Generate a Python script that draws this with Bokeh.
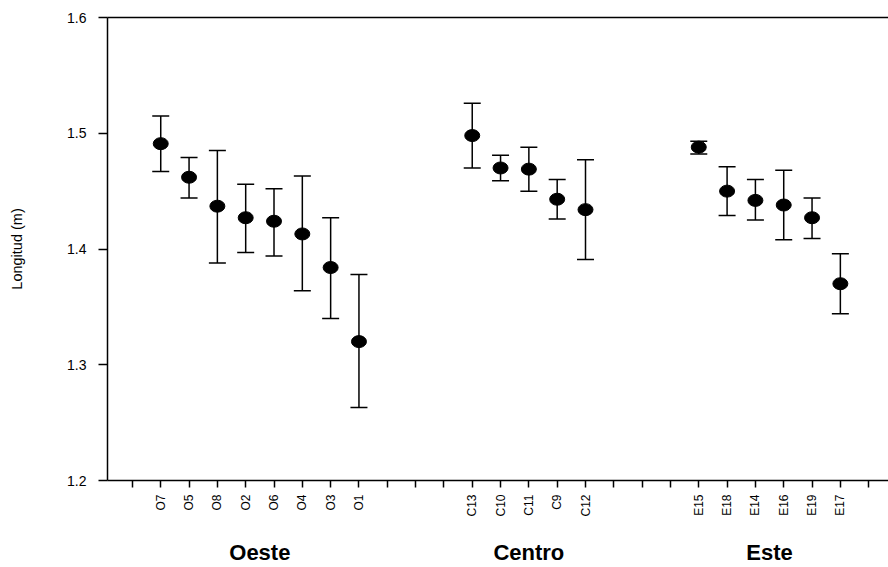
import numpy as np
from bokeh.plotting import figure
from bokeh.models import (ColumnDataSource, Whisker, TeeHead, LinearAxis,
                          FixedTicker, Range1d)
from bokeh.embed import file_html
from bokeh.resources import INLINE

# Tick slots along the x axis (empty strings are unlabeled ticks)
slots = ["", "O7", "O5", "O8", "O2", "O6", "O4", "O3", "O1", "", "", "",
         "C13", "C10", "C11", "C9", "C12", "", "", "",
         "E15", "E18", "E14", "E16", "E19", "E17", ""]

groups = ["Oeste", "Centro", "Este"]
oeste = ["O7", "O5", "O8", "O2", "O6", "O4", "O3", "O1"]
centro = ["C13", "C10", "C11", "C9", "C12"]
este = ["E15", "E18", "E14", "E16", "E19", "E17"]

samples = oeste + centro + este
means = [1.491, 1.462, 1.437, 1.427, 1.424, 1.413, 1.384, 1.320,
         1.498, 1.470, 1.469, 1.443, 1.434,
         1.488, 1.450, 1.442, 1.438, 1.427, 1.370]
upper = [1.515, 1.479, 1.485, 1.456, 1.452, 1.463, 1.427, 1.378,
         1.526, 1.481, 1.488, 1.460, 1.477,
         1.493, 1.471, 1.460, 1.468, 1.444, 1.396]
lower = [1.467, 1.444, 1.388, 1.397, 1.394, 1.364, 1.340, 1.263,
         1.470, 1.459, 1.450, 1.426, 1.391,
         1.482, 1.429, 1.425, 1.408, 1.409, 1.344]

y_ticks = [1.2, 1.3, 1.4, 1.5, 1.6]
y_label = "Longitud (m)"

xpos = [slots.index(s) for s in samples]
src = ColumnDataSource(dict(x=xpos, y=means, upper=upper, lower=lower, name=samples))

FONT = "Liberation Sans"

p = figure(width=888, height=567, output_backend="svg", toolbar_location=None,
           x_range=Range1d(-0.88, 26.7), y_range=Range1d(1.2, 1.6),
           min_border_left=107, min_border_right=0, min_border_top=17,
           min_border_bottom=85, background_fill_color="white",
           border_fill_color="white")
p.outline_line_color = None
p.xgrid.visible = False
p.ygrid.visible = False

# y axis
yax = p.yaxis[0]
yax.ticker = FixedTicker(ticks=y_ticks)
yax.major_label_text_font = FONT
yax.major_label_text_font_size = "14px"
yax.major_label_standoff = 12
yax.major_tick_out = 9
yax.major_tick_in = 0
yax.minor_tick_out = 0
yax.minor_tick_in = 0
yax.axis_line_width = 1.5
yax.major_tick_line_width = 1.5
yax.axis_line_color = "black"
yax.major_tick_line_color = "black"
yax.major_label_text_color = "black"

# y axis title: an extra, line-less axis whose bounds put the title
# slightly above centre, as in the original
lax = LinearAxis(ticker=FixedTicker(ticks=[]), bounds=(1.236, 1.6),
                 axis_label=y_label)
lax.axis_line_color = None
lax.major_tick_line_color = None
lax.minor_tick_line_color = None
lax.major_tick_out = 0
lax.major_tick_in = 0
lax.minor_tick_out = 0
lax.minor_tick_in = 0
lax.major_label_text_font_size = "0px"
lax.major_label_standoff = 0
lax.axis_label_standoff = 40
lax.axis_label_text_font = FONT
lax.axis_label_text_font_size = "14.5px"
lax.axis_label_text_font_style = "normal"
lax.axis_label_text_color = "black"
p.add_layout(lax, "left")

# x axis with sample labels
xax = p.xaxis[0]
xax.ticker = FixedTicker(ticks=list(range(len(slots))))
xax.major_label_overrides = {i: s for i, s in enumerate(slots)}
xax.major_label_orientation = np.pi / 2
xax.major_label_text_font = FONT
xax.major_label_text_font_size = "12px"
xax.major_label_standoff = 7
xax.major_tick_out = 7
xax.major_tick_in = 0
xax.minor_tick_out = 0
xax.minor_tick_in = 0
xax.axis_line_width = 1.5
xax.major_tick_line_width = 1.5
xax.axis_line_color = "black"
xax.major_tick_line_color = "black"
xax.major_label_text_color = "black"

# group labels as a second bottom axis
members = [oeste, centro, este]
centers = [float(np.mean([slots.index(s) for s in m])) for m in members]
gax = LinearAxis(ticker=FixedTicker(ticks=centers),
                 major_label_overrides={c: g for c, g in zip(centers, groups)})
gax.axis_line_color = None
gax.major_tick_line_color = None
gax.minor_tick_line_color = None
gax.major_tick_out = 0
gax.major_tick_in = 0
gax.major_label_standoff = 20
gax.major_label_text_font = FONT
gax.major_label_text_font_style = "bold"
gax.major_label_text_font_size = "22px"
gax.major_label_text_color = "black"
p.add_layout(gax, "below")

# top border line
tax = LinearAxis(ticker=FixedTicker(ticks=[]))
tax.major_label_text_font_size = "0px"
tax.major_tick_out = 0
tax.major_tick_in = 0
tax.minor_tick_out = 0
tax.minor_tick_in = 0
tax.axis_line_width = 1.5
tax.axis_line_color = "black"
tax.major_label_standoff = 0
p.add_layout(tax, "above")

# error bars
wh = Whisker(source=src, base="x", upper="upper", lower="lower", dimension="height",
             line_color="black", line_width=1.5,
             upper_head=TeeHead(size=17, line_color="black", line_width=1.5),
             lower_head=TeeHead(size=17, line_color="black", line_width=1.5))
p.add_layout(wh)

# points
p.ellipse(x="x", y="y", width=15, height=12, width_units="screen",
          height_units="screen", source=src, fill_color="black", line_color="black")

open("out.html", "w").write(file_html(p, INLINE))
